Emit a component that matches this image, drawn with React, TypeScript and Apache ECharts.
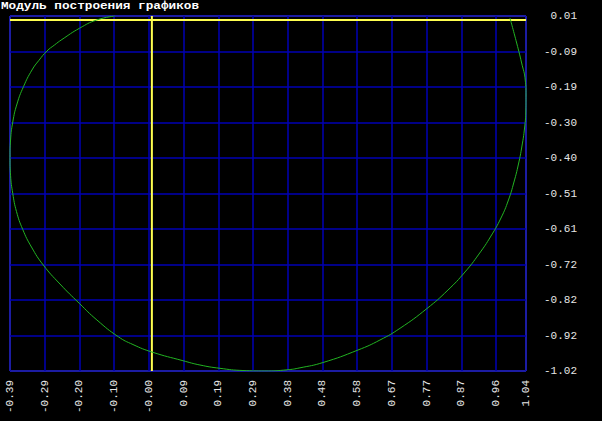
import React, { useEffect, useRef } from "react";
import * as echarts from "echarts";

const titleText = "Модуль построения графиков";

// Axis range and tick step (data units)
const xMin = -0.394;
const xMax = 1.039;
const xStep = 0.0964;
const yMin = -1.02;
const yMax = 0.0116;
const yStep = 0.10316;

const xTickLabels = [
  "-0.39", "-0.29", "-0.20", "-0.10", "-0.00", "0.09", "0.19", "0.29",
  "0.38", "0.48", "0.58", "0.67", "0.77", "0.87", "0.96", "1.04",
];
const yTickLabels = [
  "-1.02", "-0.92", "-0.82", "-0.72", "-0.61", "-0.51", "-0.40",
  "-0.30", "-0.19", "-0.09", "0.01",
];

// Curve (x, y), from the top-right end round to the top-left end
const curveX = [
  0.9944, 1.0131, 1.0269, 1.0369, 1.039, 1.0386, 1.035, 1.0278, 1.0181,
  1.0056, 0.9903, 0.9695, 0.9417, 0.9084, 0.8695, 0.8223, 0.764, 0.689,
  0.6334, 0.5723, 0.4751, 0.4113, 0.3752, 0.3141, 0.253, 0.1891, 0.1336,
  0.0864, 0.0003, -0.0525, -0.0933, -0.1525, -0.2016, -0.2552, -0.3016,
  -0.3344, -0.3588, -0.376, -0.3863, -0.3924, -0.394, -0.3924, -0.3863,
  -0.3746, -0.3566, -0.333, -0.3135, -0.2913, -0.2705, -0.2497, -0.2011,
  -0.1533, -0.1025,
];
const curveY = [
  0.0058, -0.0669, -0.125, -0.1744, -0.218, -0.2616, -0.3139, -0.3662,
  -0.4185, -0.4708, -0.5231, -0.5754, -0.6278, -0.6801, -0.7324, -0.7847,
  -0.8384, -0.896, -0.93, -0.9591, -0.9954, -1.0108, -1.0166, -1.02,
  -1.0186, -1.0122, -1.0026, -0.9901, -0.9649, -0.9431, -0.9204, -0.8719,
  -0.8233, -0.7672, -0.712, -0.6597, -0.6083, -0.5565, -0.5042, -0.4519,
  -0.3996, -0.3488, -0.2965, -0.2441, -0.1939, -0.1453, -0.1171, -0.0901,
  -0.0727, -0.0567, -0.0241, 0.0, 0.0116,
];

const labelFont = "'Liberation Mono', 'DejaVu Sans Mono', monospace";

export default function App() {
  const ref = useRef<HTMLDivElement>(null);

  useEffect(() => {
    document.body.style.margin = "0";
    document.body.style.background = "#000";
    const chart = echarts.init(ref.current!, undefined, { renderer: "svg" });

    const curveData = curveX.map((x, i) => [x, curveY[i]]);

    chart.setOption({
      animation: false,
      backgroundColor: "#000",
      graphic: [
        {
          type: "text",
          x: 1,
          y: 1,
          scaleX: 1.27,
          style: {
            text: titleText,
            fill: "#ffffff",
            font: "bold 10px " + labelFont,
            verticalAlign: "top",
          },
        },
      ],
      grid: {
        left: 10,
        top: 16,
        width: 516,
        height: 355,
        show: true,
        borderColor: "#e0e0e0",
        borderWidth: 1,
        backgroundColor: "transparent",
      },
      xAxis: {
        type: "value",
        min: xMin,
        max: xMax,
        interval: xStep,
        axisLine: { show: false },
        axisTick: { show: false },
        splitLine: { show: true, lineStyle: { color: "#0000b4", width: 1.5 } },
        axisLabel: {
          rotate: 90,
          margin: 9,
          color: "#e6e6e6",
          fontFamily: labelFont,
          fontSize: 11,
          showMinLabel: true,
          showMaxLabel: true,
          padding: [0, 0, 7, 0],
          formatter: (v: number) => {
            const i = Math.round((v - xMin) / xStep);
            return xTickLabels[Math.min(i, xTickLabels.length - 1)];
          },
        },
      },
      yAxis: {
        type: "value",
        position: "right",
        min: yMin,
        max: yMax,
        interval: yStep,
        axisLine: { show: false },
        axisTick: { show: false },
        splitLine: { show: true, lineStyle: { color: "#0000b4", width: 1.5 } },
        axisLabel: {
          align: "right",
          margin: 51,
          color: "#e6e6e6",
          fontFamily: labelFont,
          fontSize: 11,
          showMinLabel: true,
          showMaxLabel: true,
          padding: [6, 0, 0, 0],
          formatter: (v: number) => {
            const i = Math.round((v - yMin) / yStep);
            return yTickLabels[Math.max(0, Math.min(i, yTickLabels.length - 1))];
          },
        },
      },
      series: [
        {
          type: "line",
          data: [[xMin, 0], [xMax, 0]],
          symbol: "none",
          lineStyle: { color: "#ffff50", width: 2 },
          silent: true,
          z: 3,
        },
        {
          type: "line",
          data: [[0, yMin], [0, yMax]],
          symbol: "none",
          lineStyle: { color: "#ffff50", width: 2 },
          silent: true,
          z: 3,
        },
        {
          type: "line",
          data: curveData,
          symbol: "none",
          smooth: 0.5,
          lineStyle: { color: "#22b422", width: 1 },
          z: 4,
        },
      ],
    });

    return () => chart.dispose();
  }, []);

  return <div ref={ref} style={{ width: 602, height: 421 }} />;
}
